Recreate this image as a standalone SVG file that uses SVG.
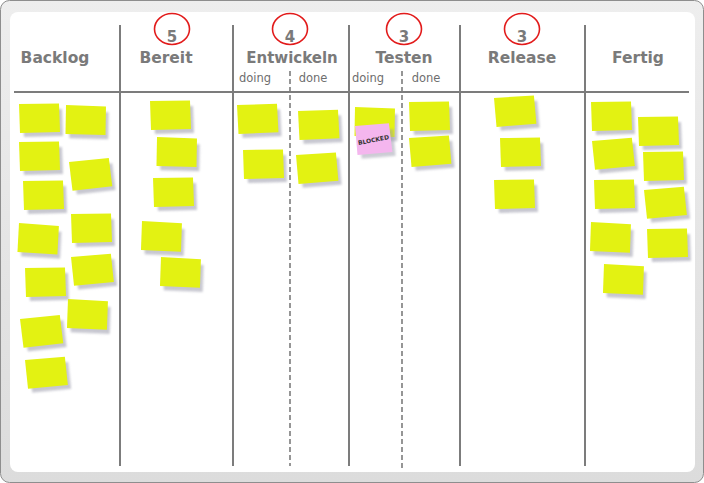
<svg xmlns="http://www.w3.org/2000/svg" width="704" height="483" viewBox="0 0 704 483">
<style>
.hd{font-family:"DejaVu Sans","Liberation Sans",sans-serif;font-weight:bold;font-size:15.5px;fill:#7a7a7a;text-anchor:middle}
.num{font-family:"DejaVu Sans","Liberation Sans",sans-serif;font-weight:bold;font-size:15px;fill:#7a7a7a;text-anchor:middle}
.sub{font-family:"DejaVu Sans","Liberation Sans",sans-serif;font-size:11.5px;fill:#6e6e6e;text-anchor:middle}
.lim{fill:none;stroke:#e21b1b;stroke-width:1.6}
.col{stroke:#7c7c7c;stroke-width:2;fill:none}
.dash{stroke:#7c7c7c;stroke-width:1.6;stroke-dasharray:5 3;fill:none}
.paper{fill:#e3f212}
</style>
<defs>
<linearGradient id="frame" x1="0" y1="0" x2="0" y2="1">
<stop offset="0" stop-color="#eeeeee"/>
<stop offset="1" stop-color="#dcdcdc"/>
</linearGradient>
<filter id="blur" x="-20%" y="-50%" width="140%" height="200%">
<feGaussianBlur stdDeviation="1"/>
</filter>
<g id="note">
<path d="M3 6 L43 5 L44 32 L5 33 Z" fill="#9a9aaa" opacity="0.55" filter="url(#blur)"/>
<path class="paper" d="M0 0 L40 -0.5 L41 28 L1 29 Z"/>
</g>
</defs>
<rect x="0.5" y="0.5" width="703" height="482" rx="9" fill="url(#frame)" stroke="#8e8e8e"/>
<rect x="10" y="12" width="685" height="460" rx="8" fill="#ffffff"/>

<g id="connectors">
<line class="col" x1="14" y1="92" x2="689" y2="92"/>
<line class="col" x1="120" y1="25" x2="120" y2="466"/>
<line class="col" x1="233" y1="25" x2="233" y2="466"/>
<line class="col" x1="349" y1="25" x2="349" y2="466"/>
<line class="col" x1="460" y1="25" x2="460" y2="466"/>
<line class="col" x1="585" y1="25" x2="585" y2="466"/>
<line class="dash" x1="290" y1="71" x2="290" y2="466"/>
<line class="dash" x1="402" y1="71" x2="402" y2="468"/>
</g>

<g id="col-backlog">
<text class="hd" x="55" y="63">Backlog</text>
<use href="#note" transform="translate(19,104)"/>
<use href="#note" transform="translate(66,105) rotate(3)"/>
<use href="#note" transform="translate(19,142)"/>
<use href="#note" transform="translate(69,162) rotate(-5)"/>
<use href="#note" transform="translate(23,181)"/>
<use href="#note" transform="translate(19,223) rotate(5)"/>
<use href="#note" transform="translate(71,214)"/>
<use href="#note" transform="translate(25,268)"/>
<use href="#note" transform="translate(71,257) rotate(-4)"/>
<use href="#note" transform="translate(20,319) rotate(-5)"/>
<use href="#note" transform="translate(68,299) rotate(4)"/>
<use href="#note" transform="translate(25,360) rotate(-4)"/>
</g>

<g id="col-bereit">
<ellipse class="lim" cx="172" cy="29" rx="17.5" ry="15.5"/>
<text class="num" x="172" y="42">5</text>
<text class="hd" x="166" y="63">Bereit</text>
<use href="#note" transform="translate(150,101)"/>
<use href="#note" transform="translate(157,137) rotate(3)"/>
<use href="#note" transform="translate(153,178)"/>
<use href="#note" transform="translate(142,221) rotate(4)"/>
<use href="#note" transform="translate(161,257) rotate(4)"/>
</g>

<g id="col-entwickeln">
<ellipse class="lim" cx="290" cy="29" rx="17.5" ry="15.5"/>
<text class="num" x="290" y="42">4</text>
<text class="hd" x="292" y="63" style="font-size:15px">Entwickeln</text>
<text class="sub" x="255" y="82">doing</text>
<text class="sub" x="313" y="82">done</text>
<use href="#note" transform="translate(237,105) rotate(-1)"/>
<use href="#note" transform="translate(243,150)"/>
<use href="#note" transform="translate(298,111) rotate(-1)"/>
<use href="#note" transform="translate(296,155) rotate(-3)"/>
</g>

<g id="col-testen">
<ellipse class="lim" cx="404" cy="29" rx="17.5" ry="15.5"/>
<text class="num" x="404" y="42">3</text>
<text class="hd" x="404" y="63">Testen</text>
<text class="sub" x="368" y="82">doing</text>
<text class="sub" x="426" y="82">done</text>
<use href="#note" transform="translate(355,107) rotate(3)"/>
<use href="#note" transform="translate(409,102)"/>
<use href="#note" transform="translate(409,138) rotate(-3)"/>
<g id="blocked" transform="translate(355,126) rotate(-3)">
<path d="M3 6 L38 5 L39 32 L5 33 Z" fill="#9a9aaa" opacity="0.5" filter="url(#blur)"/>
<path d="M0 0 L34 -1 L36 28 L1 29 Z" fill="#f4b6ee"/>
<text x="18" y="17" transform="rotate(-8 18 17)" font-family="'DejaVu Sans', sans-serif" font-size="6px" font-weight="bold" fill="#333" text-anchor="middle">BLOCKED</text>
</g>
</g>

<g id="col-release">
<ellipse class="lim" cx="522" cy="29" rx="17.5" ry="15.5"/>
<text class="num" x="522" y="42">3</text>
<text class="hd" x="522" y="63">Release</text>
<use href="#note" transform="translate(494,98) rotate(-3)"/>
<use href="#note" transform="translate(500,138)"/>
<use href="#note" transform="translate(494,180)"/>
</g>

<g id="col-fertig">
<text class="hd" x="638" y="63">Fertig</text>
<use href="#note" transform="translate(591,102)"/>
<use href="#note" transform="translate(638,117)"/>
<use href="#note" transform="translate(592,141) rotate(-4)"/>
<use href="#note" transform="translate(643,152)"/>
<use href="#note" transform="translate(594,180)"/>
<use href="#note" transform="translate(644,190) rotate(-4)"/>
<use href="#note" transform="translate(591,222) rotate(4)"/>
<use href="#note" transform="translate(647,229)"/>
<use href="#note" transform="translate(604,264) rotate(4)"/>
</g>
</svg>
